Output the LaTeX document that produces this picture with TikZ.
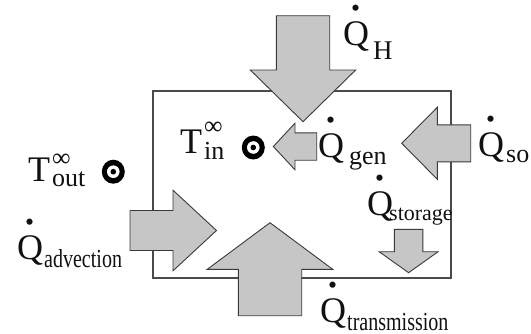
\documentclass[tikz,border=0pt]{standalone}
\usepackage{fontspec}
\setmainfont{Liberation Serif}
\usepackage{xcolor}
\definecolor{ink}{HTML}{111111}
\definecolor{shade}{HTML}{C6C6C6}
\definecolor{edge}{HTML}{3A3A3A}
\definecolor{wall}{HTML}{4A4A4A}
\usepackage{tikz}
\newcommand{\qdot}{\ooalign{Q\cr\hidewidth\raisebox{35pt}{\fontsize{52}{52}\selectfont.}\hidewidth\cr}}
% flux label: sub text, gap, drop, size, horizontal squeeze
\newcommand{\flux}[5]{\qdot\hspace{#2}\raisebox{-#3}{\fontsize{#4}{#4}\selectfont\scalebox{#5}[1]{#1}}}
% temperature label: sub text, drop, raise of infinity
\newcommand{\temp}[3]{T\hspace{2pt}\makebox[0pt][l]{\raisebox{#3}{\fontsize{26}{26}\selectfont ∞}}\raisebox{-#2}{\fontsize{26}{26}\selectfont #1}}
\tikzset{
  lbl/.style={inner sep=0pt, anchor=base west, text=ink, font=\fontsize{36}{40}\selectfont},
  flux/.style={draw=edge, fill=shade, line width=0.9pt, line join=miter},
  wallbox/.style={draw=wall, line width=1.3pt},
}
\begin{document}
\begin{tikzpicture}[x=1pt, y=-1pt]
  \useasboundingbox (0,0) rectangle (531,333);
  % control volume
  \draw[wallbox] (153,91) rectangle (451,278);
  % block arrows: tip x/y, angle, length, head length, shaft half, head half
  \foreach \x/\y/\a/\L/\h/\s/\w in {303/121.7/-90/106/51.7/26.7/52.7,
      273.3/146.5/180/43.4/21.7/13.7/23.3,
      401.7/143.3/180/69/35.6/18.5/36,
      408.6/272.7/-90/43.4/21/14.3/29.5,
      216.5/230.5/0/86.5/43.5/20/40.3,
      270/222.7/90/93/46.6/31.7/62.7} {
    \draw[flux, shift={(\x,\y)}, rotate=\a]
      (0,0) -- (-\h,\w) -- (-\h,\s) -- (-\L,\s) -- (-\L,-\s) -- (-\h,-\s) -- (-\h,-\w) -- cycle;
  }
  % temperature probes
  \foreach \n/\x/\y in {pout/113.3/171.7, pin/253.3/147.5} {
    \coordinate (\n) at (\x,\y);
    \fill[black] (\n) ellipse [x radius=11.5, y radius=12];
    \fill[white] (\n) circle [radius=6.3];
    \fill[black] (\n) circle [radius=2.8];
  }
  % labels
  \node[lbl] (tout) at (28,181) {\temp{out}{5pt}{15pt}};
  \node[lbl] (tin) at (180,153) {\temp{in}{6pt}{19pt}};
  \node[lbl] (qh) at (343,45) {\flux{H}{4pt}{14pt}{27}{1}};
  \node[lbl] (qgen) at (318,157) {\flux{gen}{5pt}{7pt}{26}{1}};
  \node[lbl] (qso) at (478,156) {\flux{so}{2pt}{6pt}{26}{1}};
  \node[lbl] (qsto) at (367,215) {\flux{storage}{-4pt}{5pt}{22}{1}};
  \node[lbl] (qtr) at (320,322) {\flux{transmission}{1pt}{8pt}{26}{0.77}};
  \node[lbl] (qadv) at (17,259) {\flux{advection}{1pt}{8pt}{26}{0.77}};
\end{tikzpicture}
\end{document}
